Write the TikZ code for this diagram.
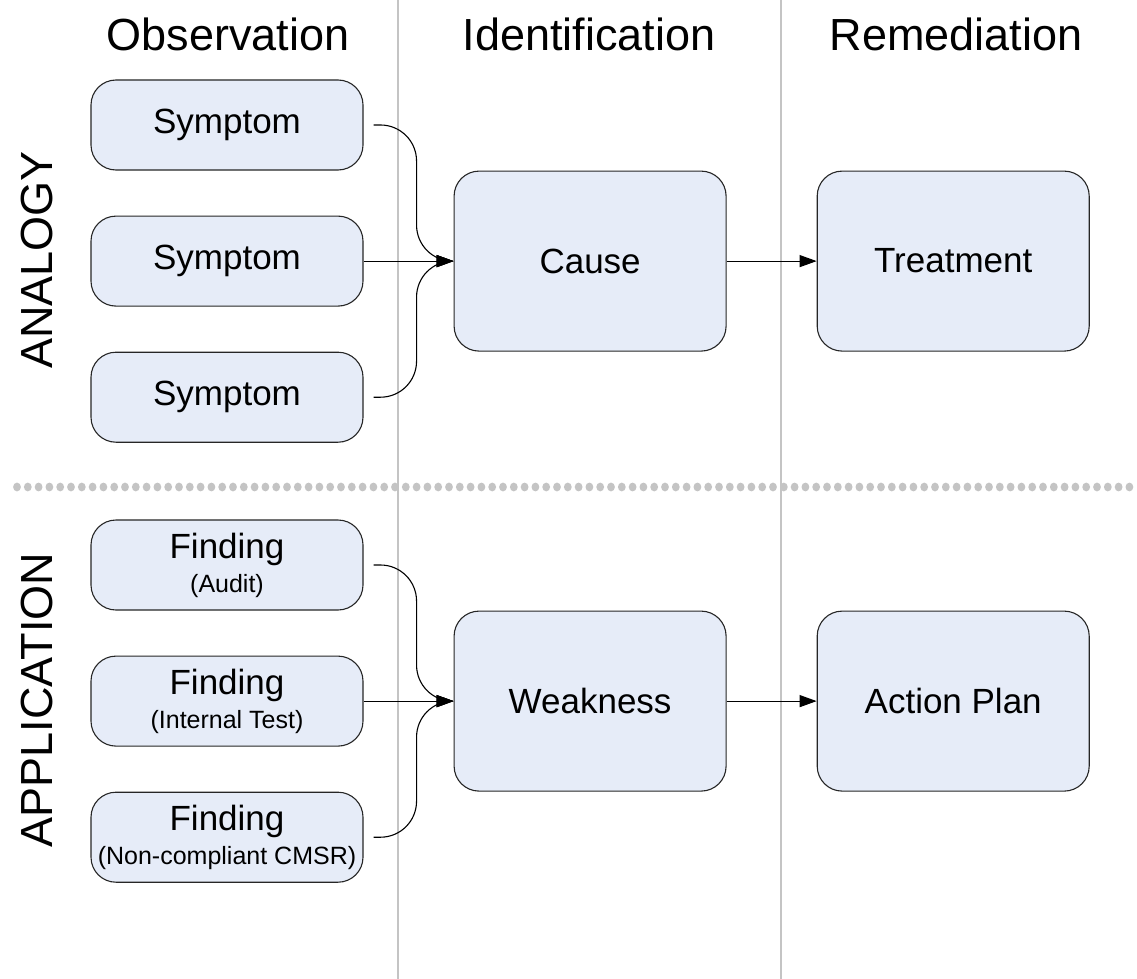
\documentclass[tikz,border=0pt]{standalone}
\usepackage{fontspec}
\setmainfont{Liberation Sans}
\usepackage{tikz}
\usetikzlibrary{arrows.meta,positioning}
\definecolor{boxBlue}{HTML}{E6ECF8}
\definecolor{sepGray}{HTML}{C4C4C4}

\begin{document}
\begin{tikzpicture}[x=1pt, y=-1pt,
  stage/.style={rectangle, rounded corners=25pt, draw=black!85, line width=1.1pt, fill=boxBlue, minimum width=272pt, minimum height=90pt, inner sep=2pt, align=center, font=\fontsize{35}{38}\selectfont},
  bigstage/.style={stage, minimum height=180pt},
  header/.style={font=\fontsize{45}{50}\selectfont},
  rowlabel/.style={font=\fontsize{45}{50}\selectfont, rotate=90},
  sep/.style={draw=sepGray, line width=1.6pt},
  link/.style={-{Triangle[length=17pt, width=12pt]}, draw=black, line width=1.1pt},
  curvelink/.style={link, rounded corners=36pt}
]
\useasboundingbox (0,0) rectangle (1137,979);
% column separators
\coordinate (t1) at (398,0); \coordinate (b1) at (398,979);
\coordinate (t2) at (781,0); \coordinate (b2) at (781,979);
\draw[sep] (t1) -- (b1);
\draw[sep] (t2) -- (b2);
% dotted row divider
\foreach \i in {0,...,103}
  \fill[sepGray] (17+10.8*\i,487) ellipse [x radius=3.9pt, y radius=4.4pt];
% headers
\node[header] (hobs) at (228,34) {Observation};
\node[header] (hid) at (589,34) {Identification};
\node[header] (hrem) at (956,34) {Remediation};
\node[rowlabel] (lana) at (37,260) {ANALOGY};
\node[rowlabel] (lapp) at (37,700) {APPLICATION};
% analogy row
\node[stage] (s1) at (227,125) {Symptom};
\node[stage, below=45pt of s1] (s2) {Symptom};
\node[stage, below=45pt of s2] (s3) {Symptom};
\node[bigstage, right=90pt of s2] (cause) {Cause};
\node[bigstage, right=90pt of cause] (treat) {Treatment};
% application row
\node[stage] (f1) at (227,565) {Finding\\[-4pt]{\fontsize{25}{28}\selectfont (Audit)}};
\node[stage, below=45pt of f1] (f2) {Finding\\[-4pt]{\fontsize{25}{28}\selectfont (Internal Test)}};
\node[stage, below=45pt of f2] (f3) {Finding\\[-4pt]{\fontsize{25}{28}\selectfont (Non-compliant CMSR)}};
\node[bigstage, right=90pt of f2] (weak) {Weakness};
\node[bigstage, right=90pt of weak] (plan) {Action Plan};
% connectors
\foreach \a/\b/\c in {s1/s3/cause, f1/f3/weak} {
  \draw[curvelink] ([xshift=10pt]\a.east) -- ([xshift=53pt]\a.east) -- ([xshift=-37pt]\c.west) -- (\c.west);
  \draw[curvelink] ([xshift=10pt]\b.east) -- ([xshift=53pt]\b.east) -- ([xshift=-37pt]\c.west) -- (\c.west);
}
\draw[link] (s2) -- (cause);
\draw[link] (cause) -- (treat);
\draw[link] (f2) -- (weak);
\draw[link] (weak) -- (plan);
\end{tikzpicture}
\end{document}
